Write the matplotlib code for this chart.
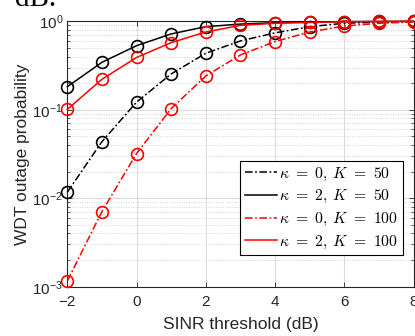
import matplotlib
matplotlib.use("Agg")
import matplotlib.pyplot as plt
from matplotlib.lines import Line2D
from matplotlib.ticker import LogLocator, NullFormatter

plt.rcParams['font.family'] = ['Liberation Sans', 'DejaVu Sans']

# SINR threshold (dB)
sinr_db = [-2, -1, 0, 1, 2, 3, 4, 5, 6, 7, 8]

# WDT outage probability for each configuration
p_k0_K50 = [0.0117, 0.0436, 0.122, 0.254, 0.435, 0.60, 0.74, 0.87, 0.95, 0.98, 0.995]
p_k2_K50 = [0.182, 0.344, 0.53, 0.72, 0.87, 0.93, 0.965, 0.98, 0.99, 0.996, 0.999]
p_k0_K100 = [0.00116, 0.00706, 0.032, 0.103, 0.241, 0.416, 0.59, 0.757, 0.885, 0.95, 0.985]
p_k2_K100 = [0.101, 0.221, 0.39, 0.574, 0.757, 0.90, 0.95, 0.97, 0.99, 0.995, 0.999]

labels = [r'$\kappa\ =\ 0,\:K\ =\ 50$', r'$\kappa\ =\ 2,\:K\ =\ 50$',
          r'$\kappa\ =\ 0,\:K\ =\ 100$', r'$\kappa\ =\ 2,\:K\ =\ 100$']

dashdot = (0, (5, 1.6, 1.2, 1.6))
series = [
    (p_k0_K50, 'black', dashdot),
    (p_k2_K50, 'black', '-'),
    (p_k0_K100, 'red', dashdot),
    (p_k2_K100, 'red', '-'),
]

fig = plt.figure(figsize=(4.15, 3.36), dpi=100)
ax = fig.add_axes([67.3 / 415, 1 - 286.7 / 336, (413.5 - 67.3) / 415, (286.7 - 21.3) / 336])

handles = []
for vals, color, ls in series:
    ax.plot(sinr_db, vals, color=color, linestyle=ls, linewidth=1.1,
            marker='o', markersize=8.5, markerfacecolor='none',
            markeredgecolor=color, markeredgewidth=1.2, clip_on=False, zorder=3)
    handles.append(Line2D([], [], color=color, linestyle=ls, linewidth=1.1))

ax.set_yscale('log')
ax.set_xlim(-2, 8)
ax.set_ylim(1e-3, 1)
ax.set_xticks([-2, 0, 2, 4, 6, 8])
ax.yaxis.set_major_locator(LogLocator(base=10, numticks=10))
ax.yaxis.set_minor_locator(LogLocator(base=10, subs=range(2, 10), numticks=20))
ax.yaxis.set_minor_formatter(NullFormatter())

ax.grid(True, which='major', color='#dcdcdc', linewidth=0.8, linestyle='-')
ax.grid(True, which='minor', axis='y', color='#d4d4d4', linewidth=0.7, linestyle=(0, (1, 1.5)))
ax.set_axisbelow(True)

ax.tick_params(which='both', direction='in', top=True, right=True,
               labelsize=11, colors='#262626', labelcolor='#262626')
ax.tick_params(which='major', length=3.5, width=0.6)
ax.tick_params(which='minor', length=2, width=0.5)
ax.tick_params(axis='x', which='major', pad=6)
ax.tick_params(axis='y', which='major', pad=3)
for s in ax.spines.values():
    s.set_color('#262626')
    s.set_linewidth(0.8)

ax.set_xlabel('SINR threshold (dB)', fontsize=12.5, color='#262626', labelpad=5.5)
ax.set_ylabel('WDT outage probability', fontsize=12.5, color='#262626', labelpad=1.5)

leg = ax.legend(handles, labels, loc='upper left',
                bbox_to_anchor=(240 / 415, 1 - 161 / 336), bbox_transform=fig.transFigure,
                borderaxespad=0, fontsize=11.3, handlelength=2.05, handletextpad=0.15,
                labelspacing=0.35, borderpad=0.3, frameon=True, fancybox=False,
                framealpha=1, edgecolor='black')
leg.get_frame().set_linewidth(0.8)
for t in leg.get_texts():
    t.set_math_fontfamily('cm')

# tail of the caption text above the figure
fig.text(15 / 415, 1 - 6 / 336, 'dB.', family='Liberation Serif', fontsize=21,
         va='baseline', ha='left', color='black')

fig.savefig('out.png', dpi=100)
